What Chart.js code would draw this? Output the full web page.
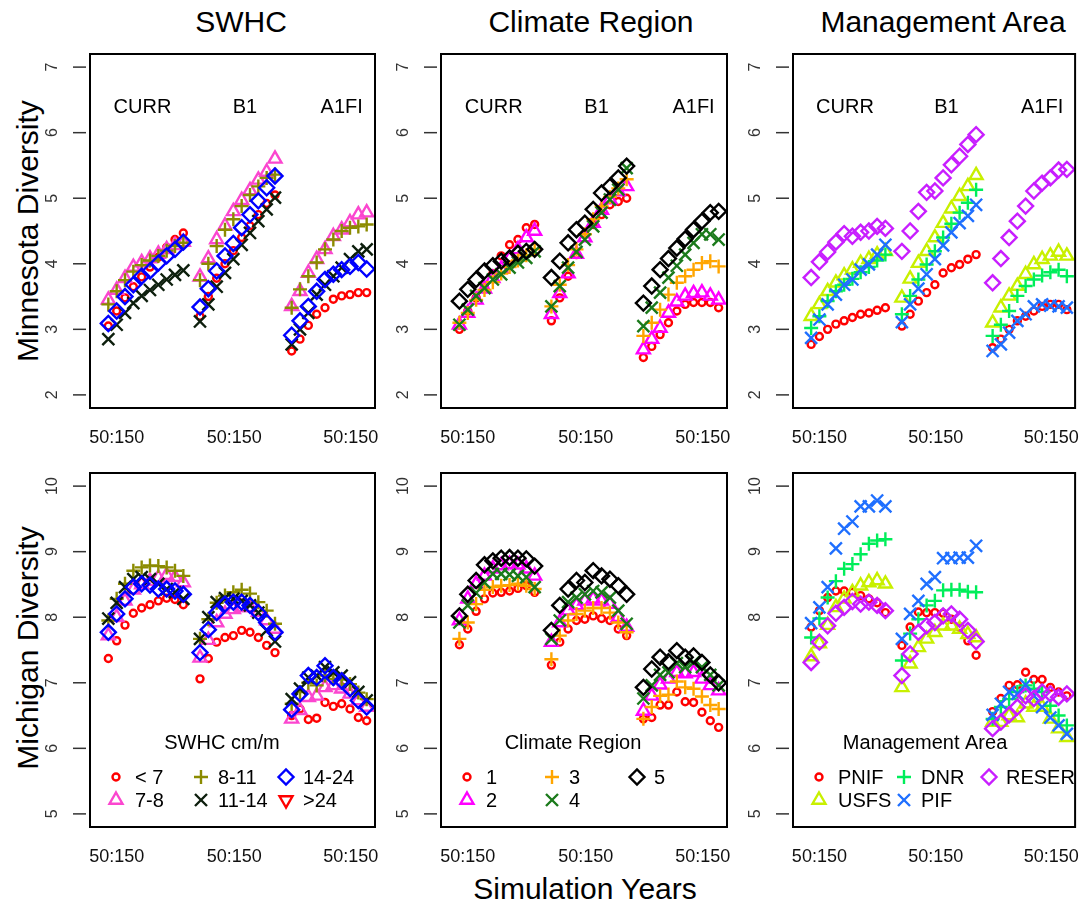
<!DOCTYPE html>
<html>
<head>
<meta charset="utf-8">
<script src="https://cdn.jsdelivr.net/npm/chart.js@4.4.1/dist/chart.umd.min.js"></script>
<style>
body { margin: 0; background: #fff; width: 1086px; height: 906px; position: relative; overflow: hidden;
       font-family: "Liberation Sans", Arial, sans-serif; }
canvas { position: absolute; left: 0; top: 0; }
.t { position: absolute; font-size: 30px; color: #000; white-space: nowrap; transform: translate(-50%, -50%); }
.rot { transform: translate(-50%, -50%) rotate(-90deg); }
</style>
</head>
<body>
<div class="t" style="left:241px;top:22px">SWHC</div>
<div class="t" style="left:591px;top:22px">Climate Region</div>
<div class="t" style="left:943px;top:22px">Management Area</div>
<div class="t rot" style="left:28px;top:231px">Minnesota Diversity</div>
<div class="t rot" style="left:28px;top:648px">Michigan Diversity</div>
<div class="t" style="left:585px;top:889px">Simulation Years</div>
<canvas id="p1" width="1086" height="906"></canvas>
<canvas id="p2" width="1086" height="906"></canvas>
<canvas id="p3" width="1086" height="906"></canvas>
<canvas id="p4" width="1086" height="906"></canvas>
<canvas id="p5" width="1086" height="906"></canvas>
<canvas id="p6" width="1086" height="906"></canvas>
<script>
// simulation years shown in each scenario block
const years = [60, 70, 80, 90, 100, 110, 120, 130, 140, 150];
const scenarios = ["CURR", "B1", "A1FI"];
const xTickLabels = ["50:150", "50:150", "50:150"];
const mnTicks = [2, 3, 4, 5, 6, 7];
const miTicks = [5, 6, 7, 8, 9, 10];

// legend names
const swhcNames = ["< 7", "7-8", "8-11", "11-14", "14-24", ">24"];
const climNames = ["1", "2", "3", "4", "5"];
const mgmtNames = ["PNIF", "USFS", "DNR", "PIF", "RESER"];

// Minnesota - SWHC  (each: CURR, B1, A1FI)
const mnSwhcLt7  = [[3.05,3.28,3.48,3.65,3.8,3.95,4.1,4.25,4.37,4.47],[3.2,3.5,3.78,4.0,4.2,4.4,4.58,4.75,4.92,5.05],[2.67,2.85,3.06,3.23,3.33,3.46,3.51,3.53,3.56,3.56]];
const mnSwhc7_8  = [[3.45,3.6,3.78,3.95,4.02,4.08,4.15,4.22,4.28,4.33],[3.8,4.08,4.37,4.58,4.8,4.97,5.12,5.28,5.4,5.6],[3.35,3.58,3.86,4.07,4.22,4.42,4.52,4.63,4.75,4.78]];
const mnSwhc8_11 = [[3.38,3.58,3.75,3.88,3.98,4.05,4.12,4.2,4.27,4.32],[3.75,4.0,4.27,4.52,4.68,4.88,5.05,5.18,5.31,5.36],[3.33,3.61,3.81,4.02,4.22,4.37,4.5,4.55,4.57,4.6]];
const mnSwhc11_14= [[2.85,3.07,3.25,3.4,3.51,3.6,3.68,3.76,3.83,3.9],[3.12,3.38,3.65,3.86,4.07,4.29,4.47,4.65,4.83,5.01],[2.77,3.0,3.25,3.53,3.68,3.81,3.94,4.07,4.19,4.22]];
const mnSwhc14_24= [[3.09,3.28,3.5,3.68,3.81,3.89,4.01,4.12,4.22,4.33],[3.34,3.62,3.89,4.12,4.31,4.55,4.75,4.96,5.16,5.34],[2.91,3.13,3.35,3.58,3.76,3.84,3.91,3.96,4.02,3.92]];

// Minnesota - climate region
const mnClim1 = [[3.0,3.28,3.48,3.65,3.85,4.12,4.29,4.37,4.55,4.6],[3.13,3.48,3.81,4.14,4.45,4.6,4.75,4.9,4.95,5.0],[2.57,2.74,2.92,3.1,3.28,3.38,3.41,3.41,3.41,3.33]];
const mnClim2 = [[3.07,3.25,3.45,3.62,3.78,3.92,4.08,4.22,4.4,4.5],[3.23,3.55,3.85,4.15,4.4,4.62,4.82,4.98,5.1,5.18],[2.69,2.85,3.02,3.25,3.42,3.51,3.55,3.56,3.51,3.45]];
const mnClim3 = [[3.1,3.25,3.45,3.6,3.72,3.85,3.95,4.05,4.13,4.22],[3.35,3.68,3.98,4.22,4.45,4.68,4.88,5.02,5.15,5.29],[2.9,3.1,3.3,3.53,3.71,3.81,3.91,4.01,4.04,3.96]];
const mnClim4 = [[3.07,3.3,3.51,3.63,3.76,3.84,3.94,4.02,4.09,4.19],[3.35,3.66,3.94,4.18,4.37,4.57,4.78,4.98,5.13,5.46],[3.05,3.33,3.56,3.79,3.97,4.14,4.32,4.45,4.45,4.37]];
const mnClim5 = [[3.43,3.61,3.76,3.89,3.97,4.04,4.09,4.16,4.19,4.22],[3.79,4.04,4.32,4.52,4.62,4.83,5.08,5.18,5.31,5.49],[3.4,3.66,3.91,4.08,4.24,4.38,4.52,4.65,4.78,4.8]];

// Minnesota - management area
const mnPNIF  = [[2.77,2.89,3.0,3.08,3.13,3.18,3.23,3.25,3.29,3.33],[3.05,3.23,3.43,3.56,3.68,3.86,3.94,3.99,4.07,4.14],[2.72,2.85,3.0,3.13,3.2,3.28,3.35,3.38,3.38,3.3]];
const mnUSFS  = [[3.2,3.38,3.58,3.71,3.82,3.91,4.01,4.07,4.14,4.19],[3.48,3.77,4.01,4.19,4.4,4.62,4.84,5.03,5.18,5.35],[3.1,3.33,3.51,3.66,3.84,3.99,4.07,4.12,4.18,4.12]];
const mnDNR   = [[3.02,3.2,3.43,3.58,3.68,3.77,3.87,3.95,4.05,4.14],[3.23,3.51,3.76,3.99,4.19,4.4,4.61,4.78,4.93,5.13],[2.9,3.07,3.28,3.51,3.66,3.76,3.82,3.87,3.91,3.81]];
const mnPIF   = [[2.87,3.15,3.38,3.53,3.68,3.76,3.91,3.99,4.14,4.29],[3.11,3.38,3.62,3.84,4.07,4.28,4.48,4.62,4.73,4.9],[2.67,2.77,2.95,3.13,3.23,3.35,3.38,3.36,3.35,3.33]];
const mnRESER = [[3.79,4.03,4.18,4.33,4.46,4.42,4.48,4.5,4.57,4.54],[4.19,4.5,4.8,5.09,5.11,5.31,5.51,5.64,5.82,5.97],[3.71,4.08,4.4,4.65,4.88,5.11,5.23,5.31,5.43,5.44]];

// Michigan - SWHC
const miSwhcLt7  = [[7.37,7.64,7.88,8.06,8.14,8.19,8.25,8.29,8.27,8.19],[7.06,7.37,7.62,7.69,7.72,7.8,7.77,7.69,7.57,7.46],[6.5,6.6,6.44,6.46,6.7,6.64,6.68,6.6,6.47,6.42]];
const miSwhc7_8  = [[7.72,8.0,8.25,8.42,8.5,8.55,8.6,8.64,8.61,8.53],[7.38,7.65,7.92,8.05,8.12,8.15,8.15,8.08,7.95,7.82],[6.45,6.58,6.78,6.8,6.93,6.96,6.91,6.83,6.73,6.63]];
const miSwhc8_11 = [[7.95,8.28,8.51,8.71,8.76,8.79,8.78,8.76,8.71,8.63],[7.67,7.97,8.22,8.33,8.38,8.42,8.36,8.23,8.1,7.9],[6.68,6.86,7.0,6.96,7.11,7.06,7.05,6.98,6.85,6.75]];
const miSwhc11_14= [[7.98,8.22,8.46,8.58,8.61,8.58,8.51,8.43,8.38,8.28],[7.67,8.0,8.23,8.29,8.28,8.25,8.18,8.07,7.8,7.63],[6.75,6.91,7.08,7.11,7.24,7.16,7.11,7.01,6.86,6.73]];
const miSwhc14_24= [[7.77,8.05,8.28,8.46,8.51,8.49,8.43,8.43,8.4,8.35],[7.46,7.81,8.07,8.2,8.23,8.23,8.18,8.07,7.92,7.77],[6.59,6.83,7.11,7.08,7.26,7.08,7.03,6.91,6.73,6.63]];

// Michigan - climate region
const miClim1 = [[7.58,7.82,8.09,8.28,8.37,8.38,8.4,8.44,8.48,8.38],[7.27,7.62,7.82,7.95,7.97,8.02,7.98,7.95,7.82,7.72],[6.45,6.47,6.66,6.66,6.86,6.71,6.7,6.55,6.42,6.32]];
const miClim2 = [[7.95,8.28,8.51,8.63,8.74,8.79,8.81,8.8,8.74,8.63],[7.62,7.92,8.1,8.18,8.25,8.28,8.25,8.2,8.0,7.85],[6.57,6.8,6.97,7.06,7.16,7.14,7.16,7.06,6.96,6.88]];
const miClim3 = [[7.67,7.92,8.2,8.42,8.46,8.48,8.49,8.51,8.48,8.43],[7.36,7.72,7.95,8.05,8.1,8.14,8.14,8.07,7.92,7.77],[6.45,6.63,6.8,6.82,7.02,6.93,6.91,6.79,6.66,6.6]];
const miClim4 = [[7.92,8.18,8.37,8.53,8.66,8.66,8.65,8.63,8.61,8.46],[7.67,7.95,8.23,8.3,8.35,8.4,8.38,8.3,8.1,7.9],[6.76,6.96,7.12,7.16,7.3,7.24,7.31,7.24,7.12,6.96]];
const miClim5 = [[8.02,8.35,8.56,8.8,8.86,8.9,8.91,8.9,8.89,8.78],[7.8,8.18,8.43,8.56,8.53,8.71,8.63,8.58,8.48,8.35],[6.93,7.21,7.39,7.32,7.49,7.39,7.41,7.31,7.12,7.0]];

// Michigan - management area
const miPNIF  = [[7.85,8.1,8.3,8.4,8.4,8.38,8.33,8.28,8.22,8.07],[7.57,7.85,8.08,8.07,8.07,8.06,7.97,7.85,7.64,7.42],[6.56,6.76,6.96,6.97,7.16,7.05,7.05,6.93,6.86,6.8]];
const miUSFS  = [[7.4,7.6,7.88,8.15,8.28,8.38,8.48,8.53,8.56,8.51],[6.93,7.29,7.54,7.67,7.77,7.87,7.87,7.82,7.74,7.69],[6.4,6.4,6.5,6.47,6.68,6.63,6.63,6.45,6.3,6.17]];
const miDNR   = [[7.69,7.98,8.3,8.55,8.74,8.81,8.96,9.12,9.17,9.19],[7.34,7.75,7.97,8.18,8.25,8.41,8.42,8.42,8.39,8.38],[6.45,6.63,6.75,6.86,6.96,6.91,6.86,6.65,6.5,6.35]];
const miPIF   = [[7.91,8.15,8.46,9.05,9.35,9.46,9.69,9.69,9.78,9.69],[7.67,8.05,8.25,8.51,8.61,8.9,8.9,8.91,8.91,9.09],[6.51,6.68,6.86,6.83,6.97,6.8,6.63,6.47,6.35,6.22]];
const miRESER = [[7.31,7.62,7.87,8.06,8.15,8.24,8.2,8.23,8.18,8.1],[7.11,7.44,7.77,7.87,7.92,8.02,8.05,7.97,7.8,7.63],[6.3,6.4,6.51,6.63,6.8,6.76,6.86,6.83,6.78,6.83]];

// marker styles / colours
const styles = ["circle", "triangle", "cross", "crossRot", "rectRot", "triangle"];
const rotations = [0, 0, 0, 0, 0, 180];
const radii = [3.5, 7.5, 7, 8.5, 7.5, 7.5];
const swhcColors = ["#ff0000", "#fb46cf", "#8b8b00", "#0d1f0d", "#0000ff", "#ff0000"];
const climColors = ["#ff0000", "#ff00ff", "#ffa500", "#1b7a1b", "#000000"];
const mgmtColors = ["#ff0000", "#c8f000", "#00ee5a", "#1f6fff", "#c81eff"];
const markWidth = 2.4;

// layout
const groupGap = 110;
const xMin = 38, xMax = 380;
const xLabelAt = [70, 211, 351];
const scenarioAt = [101, 224, 340];
const FONT = '"Liberation Sans", Arial, sans-serif';

function toPoints(vals) {
  let pts = [];
  vals.forEach(function(grp, g) {
    grp.forEach(function(v, i) { pts.push({x: years[i] + g * groupGap, y: v}); });
  });
  return pts;
}

function mark(ctx, style, rot, r, color, x, y) {
  ctx.save();
  ctx.strokeStyle = color;
  ctx.fillStyle = "rgba(0,0,0,0)";
  ctx.lineWidth = markWidth;
  if (Chart.helpers && Chart.helpers.drawPoint) {
    Chart.helpers.drawPoint(ctx, {pointStyle: style, rotation: rot, radius: r, borderWidth: markWidth}, x, y);
  } else {
    ctx.beginPath(); ctx.arc(x, y, r, 0, Math.PI * 2); ctx.stroke();
  }
  ctx.restore();
}

function makeDecor(cfg) {
  return {
    id: "decor",
    afterDraw(chart) {
      const ctx = chart.ctx, a = chart.chartArea;
      const xs = chart.scales.x, ys = chart.scales.y;
      ctx.save();
      // box
      ctx.strokeStyle = "#000";
      ctx.lineWidth = 2;
      ctx.strokeRect(a.left, a.top, a.right - a.left, a.bottom - a.top);
      // y axis
      ctx.lineWidth = 1.5;
      ctx.strokeStyle = "#333";
      ctx.fillStyle = "#333";
      ctx.font = "16px " + FONT;
      ctx.textAlign = "center";
      ctx.textBaseline = "middle";
      cfg.ticks.forEach(function(v) {
        const py = ys.getPixelForValue(v);
        ctx.beginPath(); ctx.moveTo(a.left - 17, py); ctx.lineTo(a.left - 4, py); ctx.stroke();
        ctx.save();
        ctx.translate(a.left - 37, py);
        ctx.rotate(-Math.PI / 2);
        ctx.fillText(String(v), 0, 0);
        ctx.restore();
      });
      // x labels
      ctx.fillStyle = "#111";
      ctx.font = "18px " + FONT;
      xLabelAt.forEach(function(xv, i) {
        ctx.fillText(xTickLabels[i], xs.getPixelForValue(xv), a.bottom + 30);
      });
      // scenario names
      if (cfg.scenarios) {
        ctx.font = "20px " + FONT;
        ctx.fillStyle = "#000";
        scenarioAt.forEach(function(xv, i) {
          ctx.fillText(scenarios[i], xs.getPixelForValue(xv), a.top + 53);
        });
      }
      // legend
      if (cfg.legend) {
        ctx.font = "20px " + FONT;
        ctx.fillStyle = "#000";
        ctx.fillText(cfg.legend.title, a.left + 132, a.top + 270);
        ctx.textAlign = "left";
        const mx = [26, 111, 196], tx = [45, 128, 213], ry = [304, 327];
        cfg.legend.names.forEach(function(n, i) {
          const c = Math.floor(i / 2), r = i % 2;
          mark(ctx, styles[i], rotations[i], radii[i], cfg.legend.colors[i], a.left + mx[c], a.top + ry[r]);
          ctx.fillStyle = "#000";
          ctx.fillText(n, a.left + tx[c], a.top + ry[r] + 1);
        });
      }
      ctx.restore();
    }
  };
}

function panel(id, box, yMin, yMax, series, colors, cfg) {
  const n = series.length;
  const datasets = series.map(function(vals, i) {
    return {
      data: toPoints(vals),
      order: n - i,
      pointStyle: styles[i],
      pointRotation: rotations[i],
      pointRadius: radii[i],
      pointBorderWidth: markWidth,
      pointBorderColor: colors[i],
      pointBackgroundColor: "rgba(0,0,0,0)",
      showLine: false
    };
  });
  return new Chart(document.getElementById(id), {
    type: "scatter",
    data: {datasets: datasets},
    options: {
      responsive: false,
      animation: false,
      events: [],
      layout: {padding: {left: box[0], top: box[1], right: 1086 - box[2], bottom: 906 - box[3]}},
      scales: {
        x: {type: "linear", display: false, min: xMin, max: xMax},
        y: {type: "linear", display: false, min: yMin, max: yMax}
      },
      plugins: {legend: {display: false}, tooltip: {enabled: false}}
    },
    plugins: [makeDecor(cfg)]
  });
}

panel("p1", [90, 54, 375, 408], 1.8, 7.2,
  [mnSwhcLt7, mnSwhc7_8, mnSwhc8_11, mnSwhc11_14, mnSwhc14_24], swhcColors,
  {ticks: mnTicks, scenarios: true});
panel("p2", [441, 54, 727, 408], 1.8, 7.2,
  [mnClim1, mnClim2, mnClim3, mnClim4, mnClim5], climColors,
  {ticks: mnTicks, scenarios: true});
panel("p3", [793, 54, 1079, 408], 1.8, 7.2,
  [mnPNIF, mnUSFS, mnDNR, mnPIF, mnRESER], mgmtColors,
  {ticks: mnTicks, scenarios: true});
panel("p4", [90, 473, 375, 827], 4.8, 10.2,
  [miSwhcLt7, miSwhc7_8, miSwhc8_11, miSwhc11_14, miSwhc14_24], swhcColors,
  {ticks: miTicks, legend: {title: "SWHC cm/m", names: swhcNames, colors: swhcColors}});
panel("p5", [441, 473, 727, 827], 4.8, 10.2,
  [miClim1, miClim2, miClim3, miClim4, miClim5], climColors,
  {ticks: miTicks, legend: {title: "Climate Region", names: climNames, colors: climColors}});
panel("p6", [793, 473, 1079, 827], 4.8, 10.2,
  [miPNIF, miUSFS, miDNR, miPIF, miRESER], mgmtColors,
  {ticks: miTicks, legend: {title: "Management Area", names: mgmtNames, colors: mgmtColors}});
</script>
</body>
</html>
